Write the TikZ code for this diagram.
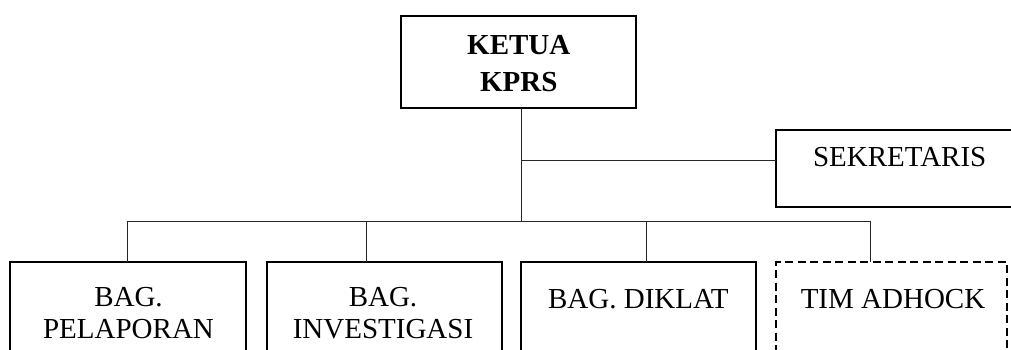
\documentclass[tikz,border=0pt]{standalone}
\usepackage{fontspec}
\setmainfont{Liberation Serif}
\begin{document}
\begin{tikzpicture}[x=1pt,y=-1pt,
  box/.style={draw=black,line width=2.2pt,rectangle,inner sep=0pt,outer sep=0pt,anchor=north west},
  dbox/.style={box,dash pattern=on 8pt off 4.5pt},
  conn/.style={draw=black!85,line width=1pt},
  txt/.style={anchor=base,inner sep=0pt,font=\fontsize{29}{34}\selectfont},
  btxt/.style={txt,font=\fontsize{29}{34}\selectfont\bfseries}]
\useasboundingbox (0,0) rectangle (1011,350);
\clip (0,0) rectangle (1011,350);
\fill[white] (0,0) rectangle (1011,350);
% boxes
\node[box,minimum width=235,minimum height=92] (ketua) at (401,16) {};
\node[box,minimum width=247,minimum height=77] (sekr) at (776,130) {};
\node[box,minimum width=235.7,minimum height=130] (b1) at (10,262) {};
\node[box,minimum width=235,minimum height=130] (b2) at (266.7,262) {};
\node[box,minimum width=235,minimum height=130] (b3) at (520.7,262) {};
\node[dbox,minimum width=231,minimum height=130] (b4) at (776,262) {};
% texts
\node[btxt] (t1) at (518.8,55) {KETUA};
\node[btxt] (t2) at (518.8,91.7) {KPRS};
\node[txt] (t3) at (899.7,166.7) {SEKRETARIS};
\node[txt] (t4) at (128.5,306.7) {BAG.};
\node[txt] (t5) at (128.5,338.3) {PELAPORAN};
\node[txt] (t6) at (383,306.7) {BAG.};
\node[txt] (t7) at (383,338.3) {INVESTIGASI};
\node[txt] (t8) at (638.3,308) {BAG. DIKLAT};
\node[txt] (t9) at (893,308) {TIM ADHOCK};
% connector points
\coordinate (top) at (521,108);
\coordinate (mid) at (521,160);
\coordinate (bus) at (521,221);
\coordinate (c1) at (127.7,221);
\coordinate (c2) at (366.7,221);
\coordinate (c3) at (646,221);
\coordinate (c4) at (870,221);
% connectors
\draw[conn] (ketua.south -| top) -- (bus);
\draw[conn] (mid) -- (sekr.west |- mid);
\draw[conn] (c1) -- (c4);
\draw[conn] (c1) -- (b1.north -| c1);
\draw[conn] (c2) -- (b2.north -| c2);
\draw[conn] (c3) -- (b3.north -| c3);
\draw[conn] (c4) -- (b4.north -| c4);
\end{tikzpicture}
\end{document}
